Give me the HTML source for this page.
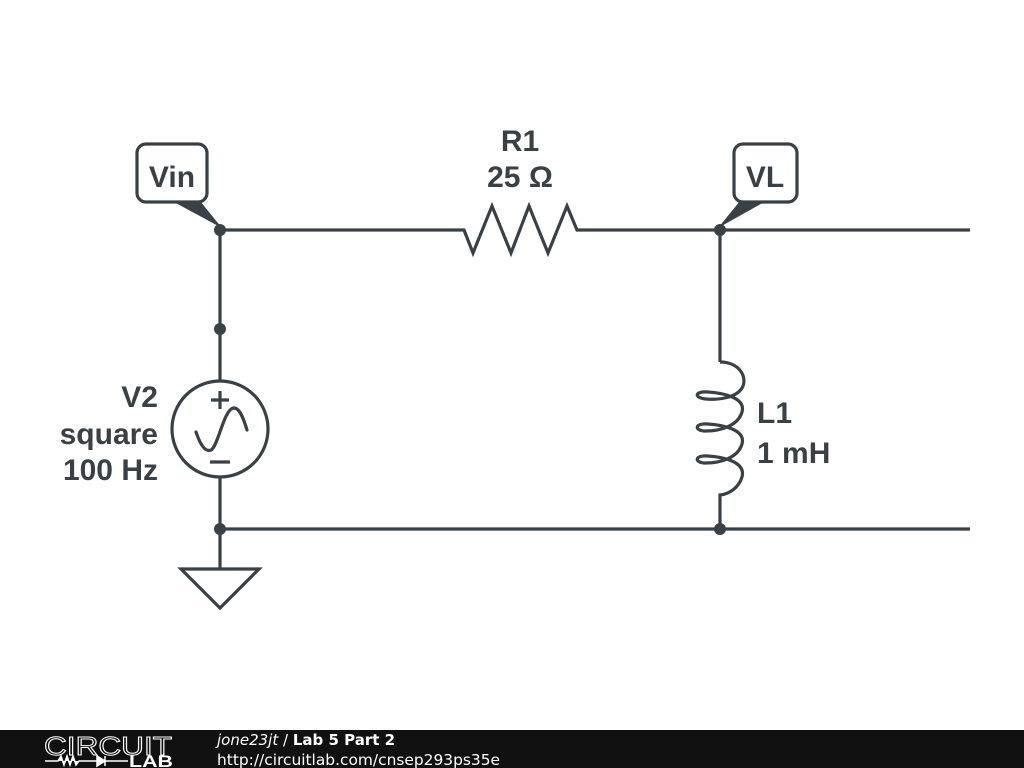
<!DOCTYPE html>
<html><head><style>
html,body{margin:0;padding:0;background:#fff;}
svg{display:block}
</style></head><body>
<svg width="1024" height="768" viewBox="0 0 1024 768" xmlns="http://www.w3.org/2000/svg">
<rect width="1024" height="768" fill="#ffffff"/>
<g stroke="#3a4146" stroke-width="3.2" fill="none" stroke-linejoin="miter">
<path d="M220,230 H464 L473,253 L492,206 L511,253 L529,206 L548,253 L567,206 L577,230 H970"/>
<path d="M220,230 V381"/>
<path d="M220,477 V529 H970"/>
<path d="M220,529 V569"/>
<path d="M181,569 H259 L220,608 Z"/>
<circle cx="220" cy="429" r="48"/>
<path d="M220,391 V409 M211,400 H229 M210,462 H230"/>
<path d="M196,432 C201,447 206,452 211,450 C218,447 224,408 234,408 C240,408 244,420 247,430" stroke-linecap="round"/>
<path d="M720,230 V362"/>
<path d="M720,362 C740,362 748,378 742,388 C736,398 718,400 706,399 C694,398 694,391 708,392 C724,393 746,398 742,412 C738,426 720,431 706,431 C694,431 694,423 708,424 C724,425 746,430 742,444 C738,458 720,463 706,463 C694,463 694,455 708,456 C724,457 746,462 742,477 C739,487 730,494 720,495 V529"/>
<rect x="137" y="144" width="70" height="58" rx="9"/>
<rect x="734" y="144" width="63" height="58" rx="9"/>
</g>
<g fill="#3a4146">
<path d="M172,201 L200,201 L222,228 Z"/>
<path d="M740,201 L766,201 L718,228 Z"/>
<circle cx="220" cy="230" r="6"/>
<circle cx="720" cy="230" r="6"/>
<circle cx="220" cy="329" r="6"/>
<circle cx="220" cy="529" r="6"/>
<circle cx="720" cy="529" r="6"/>
</g>
<g font-family="'Liberation Sans',sans-serif" font-weight="bold" font-size="30" fill="#3a4146">
<text x="172" y="187" text-anchor="middle">Vin</text>
<text x="765" y="187" text-anchor="middle">VL</text>
<text x="520" y="151" text-anchor="middle">R1</text>
<text x="520" y="187" text-anchor="middle">25 Ω</text>
<text x="158" y="407" text-anchor="end">V2</text>
<text x="158" y="444" text-anchor="end">square</text>
<text x="158" y="480" text-anchor="end">100 Hz</text>
<text x="757" y="423">L1</text>
<text x="757" y="463">1 mH</text>
</g>
<rect x="0" y="730" width="1024" height="38" fill="#111"/>
<text x="44" y="755" font-family="'Liberation Sans',sans-serif" font-size="26" fill="none" stroke="#fff" stroke-width="1" textLength="128" lengthAdjust="spacingAndGlyphs">CIRCUIT</text>
<path d="M45,761 H58 L61,756 L64,765 L67,756 L70,765 L73,756 L76,765 L79,761 H97 M97,756 V766 L105,761 Z M105,756 V766 M105,761 H128" stroke="#fff" stroke-width="1.5" fill="#fff"/>
<text x="129" y="767" font-family="'Liberation Sans',sans-serif" font-weight="bold" font-size="17" fill="#fff" textLength="44" lengthAdjust="spacingAndGlyphs">LAB</text>
<text x="217" y="745" font-family="'DejaVu Sans',sans-serif" font-size="15" fill="#fff"><tspan font-style="italic">jone23jt</tspan> / <tspan font-weight="bold">Lab 5 Part 2</tspan></text>
<text x="217" y="765" font-family="'DejaVu Sans',sans-serif" font-size="15" fill="#fff" textLength="283" lengthAdjust="spacingAndGlyphs">http://circuitlab.com/cnsep293ps35e</text>
</svg>
</body></html>
